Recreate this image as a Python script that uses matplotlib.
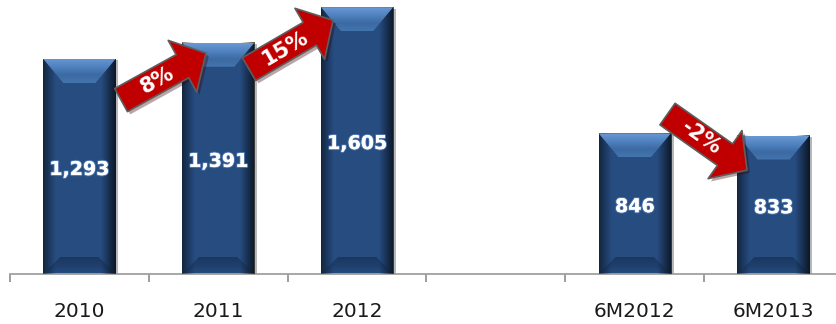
import math
import numpy as np
import matplotlib
matplotlib.use("Agg")
import matplotlib.pyplot as plt
import matplotlib.patheffects as pe
from matplotlib.patches import Polygon
from matplotlib.colors import to_rgba

# ---------------- data ----------------
categories = ["2010", "2011", "2012", "", "6M2012", "6M2013"]
values = [1293, 1391, 1605, None, 846, 833]
value_labels = ["1,293", "1,391", "1,605", "", "846", "833"]
change_from = [0, 1, 4]
change_to = [1, 2, 5]
change_labels = ["8%", "15%", "-2%"]

# ---------------- layout ----------------
W, H, DPI = 837, 324, 100
AX_L, AX_B, AX_W, AX_H = 10, 50, 833, 274     # pixels
Y_MAX = 1648
BAR_W = 0.52
# arrow tail/tip as (dx from bar centre, fraction of bar value)
arrow_tail = [(0.30, 0.809), (0.2215, 0.886), (0.236, 1.137)]
arrow_tip = [(-0.088, 0.955), (-0.173, 0.951), (-0.191, 0.75)]

plt.rcParams["font.family"] = ["DejaVu Sans"]
fig = plt.figure(figsize=(W / DPI, H / DPI), dpi=DPI)
ax = fig.add_axes([AX_L / W, AX_B / H, AX_W / W, AX_H / H])
n = len(categories)
ax.set_xlim(-0.5, n - 0.5)
ax.set_ylim(0, Y_MAX)
ax.patch.set_alpha(0)

px_x = AX_W / n          # pixels per x unit
px_y = AX_H / Y_MAX      # pixels per y unit

body = "#264c80"


def grad_image(colors, n_steps, vertical):
    cols = [np.array(to_rgba(c)) for c in colors]
    t = np.linspace(0, 1, n_steps)
    seg = np.linspace(0, 1, len(cols))
    arr = np.stack([np.interp(t, seg, [c[k] for c in cols]) for k in range(4)], axis=1)
    if vertical:
        return arr[:, None, :]
    return arr[None, :, :]


for i, v in enumerate(values):
    if v is None:
        continue
    x0, x1 = i - BAR_W / 2, i + BAR_W / 2
    bar = ax.bar(i, v, width=BAR_W, color=body, edgecolor="none", zorder=2)[0]
    bar.set_path_effects([pe.SimplePatchShadow(offset=(2, -1), shadow_rgbFace="#606060", alpha=0.45),
                          pe.Normal()])
    # bottom bevel (soft)
    dbot = 17 / px_y
    ibot = 17 / px_x
    polyb = Polygon([(x0, 0), (x1, 0), (x1 - ibot, dbot), (x0 + ibot, dbot)],
                    closed=True, facecolor="none", edgecolor="none", transform=ax.transData)
    ax.add_patch(polyb)
    imb = ax.imshow(grad_image(["#1b3760", "#1f3f6c", "#264c80"], 50, True), extent=(x0, x1, 0, dbot),
                    aspect="auto", zorder=2.5, interpolation="bilinear")
    imb.set_clip_path(polyb)
    # horizontal shading (darker edges)
    t = np.linspace(0, 1, 120)
    dark = np.clip(0.50 * (1 - t / 0.17), 0, None) + np.clip(0.70 * (t - 0.80) / 0.20, 0, None)
    arr = np.zeros((1, len(t), 4))
    arr[..., 3] = dark
    ax.imshow(arr, extent=(x0, x1, 0, v), aspect="auto", zorder=3, interpolation="bilinear")
    # top bevel
    dtop = 24 / px_y
    itop = 20 / px_x
    poly = Polygon([(x0, v), (x1, v), (x1 - itop, v - dtop), (x0 + itop, v - dtop)],
                   closed=True, facecolor="none", edgecolor="none", transform=ax.transData)
    ax.add_patch(poly)
    im = ax.imshow(grad_image(["#6a98d3", "#5083c0", "#3c6aa3", "#4474ae"], 60, True),
                   extent=(x0, x1, v - dtop, v),
                   aspect="auto", zorder=4, interpolation="bilinear")
    im.set_clip_path(poly)
    # value label
    ax.annotate(value_labels[i], (i, v / 2), xytext=(0, -3), textcoords="offset pixels",
                ha="center", va="center", color="white", fontsize=13.7, fontweight="bold",
                zorder=6,
                path_effects=[pe.withStroke(linewidth=1.5, foreground="#5078b0"), pe.Normal()])

ax.set_xlim(-0.5, n - 0.5)
ax.set_ylim(0, Y_MAX)

# change arrows
for k, (a, b, lab) in enumerate(zip(change_from, change_to, change_labels)):
    tail = (a + arrow_tail[k][0], values[a] * arrow_tail[k][1])
    tip = (b + arrow_tip[k][0], values[b] * arrow_tip[k][1])
    ax.annotate("", xy=tip, xytext=tail, zorder=7,
                arrowprops=dict(arrowstyle="simple,head_length=0.97,head_width=2.12,tail_width=0.95",
                                mutation_scale=20, fc="#c00000", ec="#5e5e5e", lw=1.2,
                                shrinkA=0, shrinkB=0,
                                path_effects=[pe.SimplePatchShadow(offset=(2, -2), alpha=0.35),
                                              pe.Normal()]))
    p0 = ax.transData.transform(tail)
    p1 = ax.transData.transform(tip)
    ang = math.degrees(math.atan2(p1[1] - p0[1], p1[0] - p0[0]))
    pm = p0 + 0.43 * (p1 - p0)
    xm, ym = ax.transData.inverted().transform(pm)
    ax.text(xm, ym, lab, rotation=ang, rotation_mode="anchor", ha="center", va="center",
            color="white", fontsize=15, fontweight="bold", zorder=8)

# axis styling
for s in ["left", "right", "top"]:
    ax.spines[s].set_visible(False)
ax.spines["bottom"].set_color("#a0a0a0")
ax.spines["bottom"].set_linewidth(1.3)
ax.set_yticks([])
ax.set_xticks(np.arange(-0.5, n, 1.0))
ax.set_xticklabels([])
ax.set_xticks(np.arange(n), minor=True)
ax.set_xticklabels(categories, minor=True)
ax.tick_params(axis="x", which="major", length=5.8, width=1.2, color="#8c8c8c", direction="out")
ax.tick_params(axis="x", which="minor", length=0, pad=20, labelsize=14.5, labelcolor="#1a1a1a")

fig.savefig("out.png", dpi=DPI)
